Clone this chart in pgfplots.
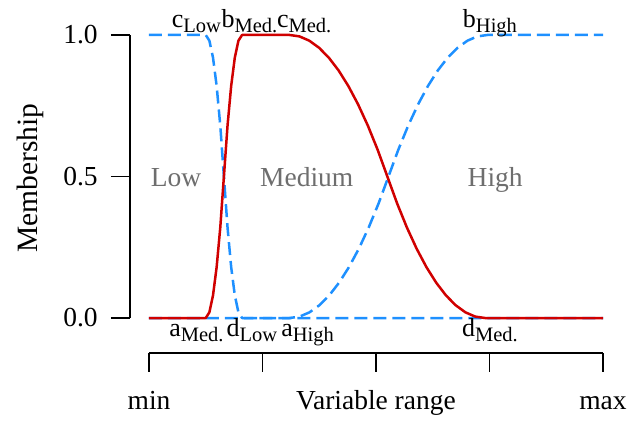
\documentclass[border=0pt]{standalone}
\usepackage{pgfplots}
\pgfplotsset{compat=1.18}
\usepackage{fontspec}
\setmainfont{Liberation Serif}
\definecolor{mfblue}{HTML}{1E90FF}
\definecolor{mfred}{HTML}{D00000}
\definecolor{mfgrey}{HTML}{6E6E6E}
\newcommand{\sub}[2]{{\fontsize{26}{28}\selectfont #1}\raisebox{-5pt}{\fontsize{20.5}{21}\selectfont #2}}

\begin{document}
\begin{tikzpicture}
\begin{axis}[
  at={(0,0)}, anchor=south west,
  x=113.5pt, y=283pt,
  xmin=-0.2, xmax=4.2, ymin=-0.1, ymax=1.1,
  hide axis, clip=false,
  font=\fontsize{27.5}{29}\selectfont,
]
% Low
\addplot[mfblue, line width=2.5pt, dash pattern=on 13pt off 6pt, line join=round] coordinates {
  (0,1) (0.5,1) (0.532,0.98) (0.564,0.92) (0.596,0.82) (0.628,0.68) (0.66,0.5)
  (0.692,0.32) (0.724,0.18) (0.756,0.08) (0.788,0.02) (0.82,0) (4,0)};
% High
\addplot[mfblue, line width=2.5pt, dash pattern=on 13pt off 6pt, line join=round] coordinates {
  (0,0) (1.24,0) (1.327,0.005) (1.414,0.02) (1.501,0.045) (1.588,0.08) (1.675,0.125)
  (1.762,0.18) (1.849,0.245) (1.936,0.32) (2.023,0.405) (2.11,0.5) (2.197,0.595)
  (2.284,0.68) (2.371,0.755) (2.458,0.82) (2.545,0.875) (2.632,0.92) (2.719,0.955)
  (2.806,0.98) (2.893,0.995) (2.98,1) (4,1)};
% Medium
\addplot[mfred, line width=2.5pt, line join=round] coordinates {
  (0,0) (0.5,0) (0.532,0.02) (0.564,0.08) (0.596,0.18) (0.628,0.32) (0.66,0.5)
  (0.692,0.68) (0.724,0.82) (0.756,0.92) (0.788,0.98) (0.82,1) (1.24,1)
  (1.326,0.995) (1.412,0.98) (1.498,0.955) (1.584,0.92) (1.67,0.875) (1.756,0.82)
  (1.842,0.755) (1.928,0.68) (2.014,0.595) (2.10,0.5) (2.186,0.405) (2.272,0.32)
  (2.358,0.245) (2.444,0.18) (2.53,0.125) (2.616,0.08) (2.702,0.045) (2.788,0.02)
  (2.874,0.005) (2.96,0) (4,0)};

% y axis (R style, drawn only between the ticks)
\draw[line width=1.6pt] (axis cs:-0.167,0) -- (axis cs:-0.167,1);
\draw[line width=1.6pt] (axis cs:-0.335,0) -- (axis cs:-0.167,0);
\draw[line width=1.6pt] (axis cs:-0.335,0.5) -- (axis cs:-0.167,0.5);
\draw[line width=1.6pt] (axis cs:-0.335,1) -- (axis cs:-0.167,1);
\node[anchor=east,inner sep=0pt] at (axis cs:-0.45,0) {0.0};
\node[anchor=east,inner sep=0pt] at (axis cs:-0.45,0.5) {0.5};
\node[anchor=east,inner sep=0pt] at (axis cs:-0.45,1) {1.0};
\node[rotate=90,inner sep=0pt,font=\fontsize{29.5}{31}\selectfont] at (axis cs:-1.048,0.495) {Membership};

% x axis, set below the plot
\draw[line width=1.6pt] (axis cs:0,-0.124) -- (axis cs:4,-0.124);
\draw[line width=1.6pt] (axis cs:0,-0.124) -- (axis cs:0,-0.191);
\draw[line width=1.6pt] (axis cs:1,-0.124) -- (axis cs:1,-0.191);
\draw[line width=1.6pt] (axis cs:2,-0.124) -- (axis cs:2,-0.191);
\draw[line width=1.6pt] (axis cs:3,-0.124) -- (axis cs:3,-0.191);
\draw[line width=1.6pt] (axis cs:4,-0.124) -- (axis cs:4,-0.191);
\node[anchor=base,inner sep=0pt] at (axis cs:0,-0.325) {min};
\node[anchor=base,inner sep=0pt] at (axis cs:2,-0.325) {Variable range};
\node[anchor=base,inner sep=0pt] at (axis cs:4,-0.325) {max};

% set names
\node[anchor=base,inner sep=0pt,text=mfgrey] at (axis cs:0.238,0.463) {Low};
\node[anchor=base,inner sep=0pt,text=mfgrey] at (axis cs:1.39,0.463) {Medium};
\node[anchor=base,inner sep=0pt,text=mfgrey] at (axis cs:3.05,0.463) {High};

% parameter labels
\node[anchor=base,inner sep=0pt] at (axis cs:0.418,1.028) {\sub{c}{Low}};
\node[anchor=base,inner sep=0pt] at (axis cs:0.885,1.028) {\sub{b}{Med.}};
\node[anchor=base,inner sep=0pt] at (axis cs:1.367,1.028) {\sub{c}{Med.}};
\node[anchor=base,inner sep=0pt] at (axis cs:3.004,1.028) {\sub{b}{High}};
\node[anchor=base,inner sep=0pt] at (axis cs:0.418,-0.067) {\sub{a}{Med.}};
\node[anchor=base,inner sep=0pt] at (axis cs:0.907,-0.067) {\sub{d}{Low}};
\node[anchor=base,inner sep=0pt] at (axis cs:1.397,-0.067) {\sub{a}{High}};
\node[anchor=base,inner sep=0pt] at (axis cs:3.004,-0.067) {\sub{d}{Med.}};
\end{axis}
\pgfresetboundingbox
\path[use as bounding box] (-126.3pt,-81.7pt) rectangle (515.7pt,346.3pt);
\end{tikzpicture}
\end{document}
